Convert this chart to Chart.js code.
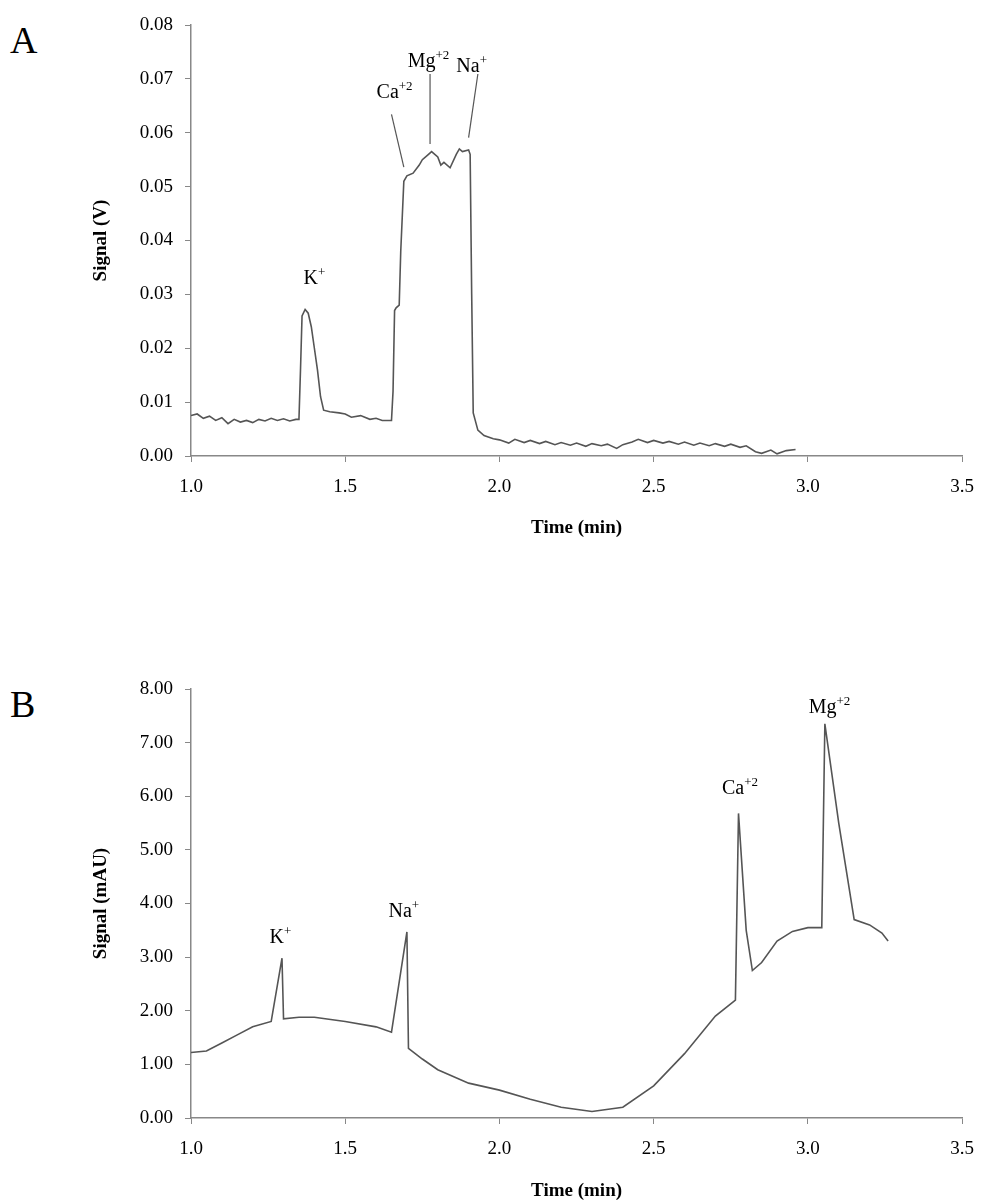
<!DOCTYPE html>
<html><head><meta charset="utf-8">
<script src="https://cdn.jsdelivr.net/npm/chart.js@4/dist/chart.umd.min.js"></script>
<style>
body{margin:0;background:#fff;width:988px;height:1203px;position:relative;overflow:hidden;font-family:"Liberation Serif",serif}
.w{position:absolute;left:0;width:988px}
.L{position:absolute;font-size:38px;left:10px}
</style></head><body>
<div class="L" style="top:18px">A</div>
<div class="L" style="top:682px">B</div>
<div class="w" style="top:0;height:543px"><canvas id="a"></canvas></div>
<div class="w" style="top:600px;height:606px"><canvas id="b"></canvas></div>
<script>
const timeA=[1.0,1.02,1.04,1.06,1.08,1.1,1.12,1.14,1.16,1.18,1.2,1.22,1.24,1.26,1.28,1.3,1.32,1.34,1.35,1.355,1.36,1.37,1.38,1.39,1.40,1.41,1.42,1.43,1.45,1.48,1.5,1.52,1.55,1.58,1.6,1.62,1.65,1.655,1.66,1.665,1.675,1.68,1.69,1.70,1.72,1.74,1.75,1.77,1.78,1.8,1.81,1.82,1.84,1.86,1.87,1.88,1.90,1.905,1.91,1.915,1.93,1.95,1.98,2.0,2.03,2.05,2.08,2.1,2.13,2.15,2.18,2.2,2.23,2.25,2.28,2.3,2.33,2.35,2.38,2.4,2.43,2.45,2.48,2.5,2.53,2.55,2.58,2.6,2.63,2.65,2.68,2.7,2.73,2.75,2.78,2.8,2.83,2.85,2.88,2.9,2.93,2.96];
const sigA=[0.0075,0.0078,0.0070,0.0074,0.0066,0.0071,0.0060,0.0068,0.0063,0.0066,0.0062,0.0068,0.0065,0.0070,0.0066,0.0069,0.0065,0.0068,0.0068,0.016,0.026,0.0272,0.0265,0.024,0.020,0.016,0.011,0.0085,0.0082,0.0080,0.0078,0.0072,0.0075,0.0068,0.0070,0.0066,0.0066,0.012,0.027,0.0275,0.028,0.038,0.051,0.052,0.0525,0.054,0.055,0.056,0.0565,0.0555,0.054,0.0545,0.0535,0.056,0.057,0.0565,0.0568,0.056,0.030,0.008,0.0048,0.0038,0.0032,0.0030,0.0024,0.0031,0.0025,0.0029,0.0023,0.0027,0.0021,0.0025,0.0020,0.0024,0.0018,0.0023,0.0019,0.0022,0.0014,0.0021,0.0026,0.0031,0.0025,0.0029,0.0024,0.0027,0.0022,0.0026,0.0020,0.0024,0.0019,0.0023,0.0018,0.0022,0.0016,0.0019,0.0008,0.0005,0.0011,0.0004,0.0010,0.0012];
const timeB=[1.0,1.05,1.1,1.15,1.2,1.26,1.295,1.30,1.35,1.4,1.5,1.6,1.65,1.7,1.705,1.75,1.8,1.9,2.0,2.1,2.2,2.3,2.4,2.5,2.6,2.7,2.765,2.775,2.8,2.82,2.85,2.9,2.95,3.0,3.045,3.055,3.1,3.15,3.2,3.24,3.26];
const sigB=[1.22,1.25,1.4,1.55,1.7,1.8,2.98,1.85,1.88,1.88,1.8,1.7,1.6,3.47,1.3,1.1,0.9,0.65,0.52,0.35,0.2,0.12,0.2,0.6,1.2,1.9,2.2,5.68,3.5,2.75,2.9,3.3,3.48,3.55,3.55,7.35,5.5,3.7,3.6,3.45,3.3];
const labelsA=[{t:"K",s:"+",x:1.4,y:0.032},{t:"Ca",s:"+2",x:1.66,y:0.0665,lx:[1.65,1.69],ly:[0.0634,0.0536]},{t:"Mg",s:"+2",x:1.77,y:0.0722,lx:[1.775,1.775],ly:[0.0709,0.0579]},{t:"Na",s:"+",x:1.91,y:0.0712,lx:[1.93,1.9],ly:[0.0709,0.0591]}];
const labelsB=[{t:"K",s:"+",x:1.29,y:3.27},{t:"Na",s:"+",x:1.69,y:3.75},{t:"Ca",s:"+2",x:2.78,y:6.05},{t:"Mg",s:"+2",x:3.07,y:7.55}];
const xTicks=[1.0,1.5,2.0,2.5,3.0,3.5];
function ann(list){return{id:'ann',afterDatasetsDraw(c){const g=c.ctx,xs=c.scales.x,ys=c.scales.y;g.save();g.fillStyle='#000';g.strokeStyle='#555';g.lineWidth=1.2;
for(const l of list){if(l.lx){g.beginPath();g.moveTo(xs.getPixelForValue(l.lx[0]),ys.getPixelForValue(l.ly[0]));g.lineTo(xs.getPixelForValue(l.lx[1]),ys.getPixelForValue(l.ly[1]));g.stroke();}
const px=xs.getPixelForValue(l.x),py=ys.getPixelForValue(l.y);g.font='20px "Liberation Serif"';const w1=g.measureText(l.t).width;g.font='13px "Liberation Serif"';const w2=g.measureText(l.s).width;const x0=px-(w1+w2)/2;g.textBaseline='alphabetic';g.font='20px "Liberation Serif"';g.fillText(l.t,x0,py);g.font='13px "Liberation Serif"';g.fillText(l.s,x0+w1,py-8);}
g.restore();}}}
function mk(id,tx,ty,max,step,ytitle,labels,xh,top){
const tf={family:'"Liberation Serif"',size:19};
new Chart(document.getElementById(id),{type:'line',data:{datasets:[{data:tx.map((x,i)=>({x,y:ty[i]})),borderColor:'#555',borderWidth:1.6,pointRadius:0,tension:0}]},
options:{responsive:true,maintainAspectRatio:false,animation:false,plugins:{legend:{display:false},tooltip:{enabled:false}},layout:{padding:{top:top,right:20,left:86,bottom:0}},
scales:{x:{type:'linear',min:1,max:3.5,afterBuildTicks:s=>{s.ticks=xTicks.map(v=>({value:v}))},afterFit:s=>{s.height=xh},ticks:{color:'#000',font:tf,padding:14,callback:v=>v.toFixed(1),maxRotation:0},grid:{drawOnChartArea:false,tickLength:6,color:'#888'},border:{color:'#888',width:1.5},title:{display:true,text:'Time (min)',color:'#000',font:{family:'"Liberation Serif"',size:19,weight:'bold'}}},
y:{min:0,max:max,ticks:{stepSize:step,color:'#000',font:tf,padding:12,callback:v=>v.toFixed(2)},afterFit:s=>{s.width=105},grid:{drawOnChartArea:false,tickLength:6,color:'#888'},border:{color:'#888',width:1.5},title:{display:true,text:ytitle,color:'#000',font:{family:'"Liberation Serif"',size:19,weight:'bold'}}}}},plugins:[ann(labels)]});}
mk('a',timeA,sigA,0.08,0.01,'Signal (V)',labelsA,87,25);
mk('b',timeB,sigB,8,1,'Signal (mAU)',labelsB,88,89);
</script></body></html>
